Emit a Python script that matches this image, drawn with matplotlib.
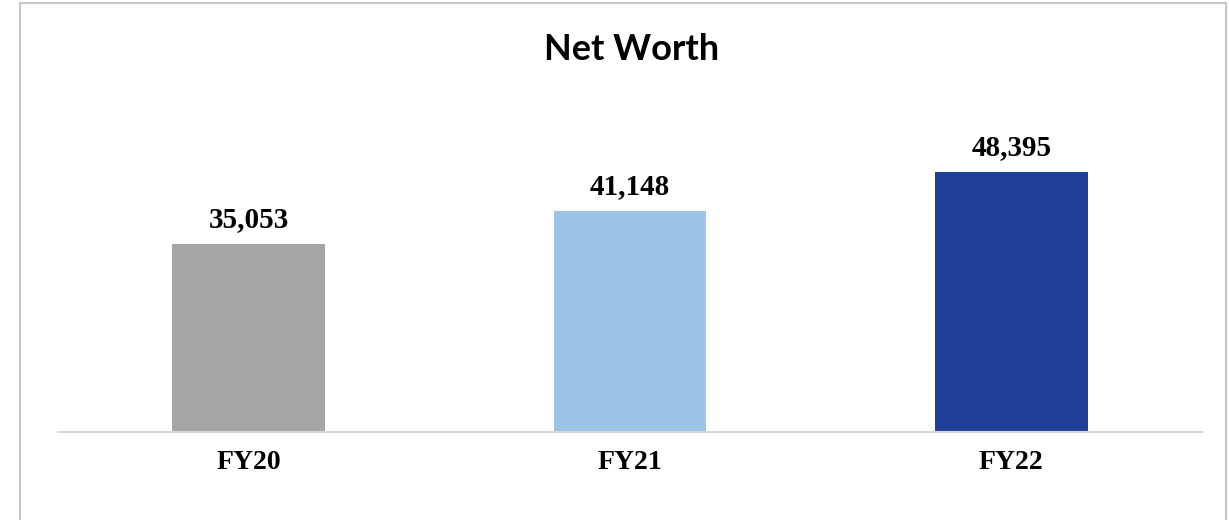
import matplotlib.pyplot as plt
from matplotlib.patches import Rectangle

years = ['FY20', 'FY21', 'FY22']
net_worth = [35053, 41148, 48395]
bar_colors = ['#a5a5a5', '#9dc3e6', '#203f99']

W, H = 1229, 520
fig = plt.figure(figsize=(W/100, H/100), dpi=100)

# chart border (bottom edge runs off the image)
fig.patches.append(Rectangle((20/W, -0.05), (1226-20)/W, 1.05 - 3/H,
                             transform=fig.transFigure, fill=False,
                             edgecolor='#c8c8c8', linewidth=1.5))

ax = fig.add_axes([58/W, (H-432)/H, 1144/W, 322/H])
x = range(len(years))
bars = ax.bar(x, net_worth, width=0.4, color=bar_colors)
ax.set_xlim(-0.5, 2.5)
ax.set_ylim(0, 60000)

for s in ['top', 'right', 'left']:
    ax.spines[s].set_visible(False)
ax.spines['bottom'].set_color('#d9d9d9')
ax.spines['bottom'].set_linewidth(1.5)
ax.set_yticks([])
ax.set_xticks(list(x))
ax.set_xticklabels(years, fontfamily='Liberation Serif', fontweight='bold', fontsize=20)
ax.tick_params(axis='x', length=0, pad=13)

for b, v in zip(bars, net_worth):
    ax.annotate(f'{v:,}', (b.get_x() + b.get_width()/2, v), xytext=(0, 8),
                textcoords='offset points', ha='center', va='bottom',
                fontfamily='Liberation Serif', fontweight='bold', fontsize=21)

fig.text(632/W, 1 - 50/H, 'Net Worth', ha='center', va='center',
         fontfamily='Lato', fontweight='bold', fontsize=26)

fig.savefig('out.png', dpi=100)
